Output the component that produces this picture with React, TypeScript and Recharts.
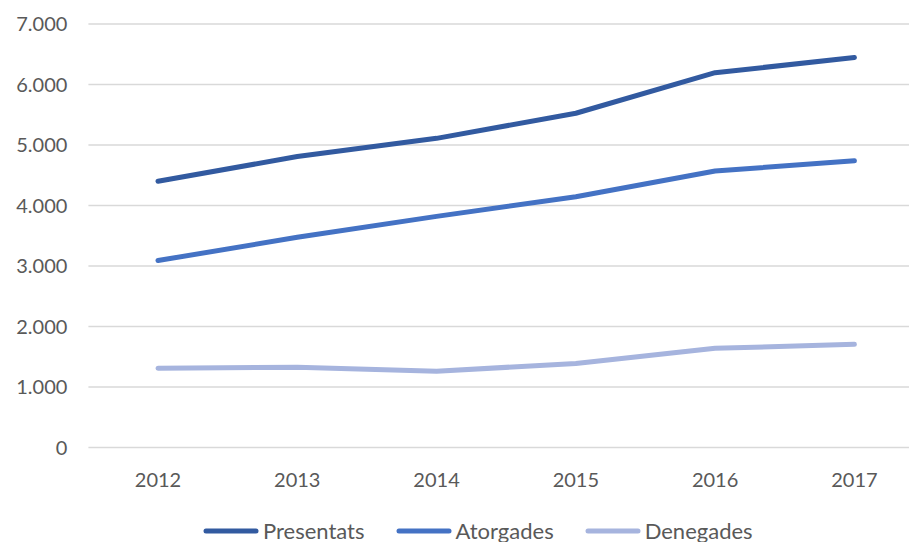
import React from 'react';
import { LineChart, Line, XAxis, YAxis, CartesianGrid, Legend } from 'recharts';

const years = ['2012', '2013', '2014', '2015', '2016', '2017'];
const presentats = [4400, 4810, 5110, 5525, 6195, 6445];
const atorgades = [3090, 3475, 3820, 4145, 4570, 4740];
const denegades = [1310, 1325, 1260, 1390, 1640, 1705];
const yTicks = [0, 1000, 2000, 3000, 4000, 5000, 6000, 7000];

const seriesInfo = [
  { key: 'Presentats', color: '#325AA0' },
  { key: 'Atorgades', color: '#4472C4' },
  { key: 'Denegades', color: '#A6B4DE' },
];

const data = years.map((y, i) => ({
  year: y,
  Presentats: presentats[i],
  Atorgades: atorgades[i],
  Denegades: denegades[i],
}));

const fmt = (v: number) => {
  const s = String(Math.round(v));
  return s.replace(/\B(?=(\d{3})+(?!\d))/g, '.');
};

const FONT = 'Lato, "Open Sans", sans-serif';

const LegendContent = () => (
  <div style={{ display: 'flex', alignItems: 'center', height: 30, paddingLeft: 203, fontFamily: FONT, fontSize: 22, color: '#595959' }}>
    {seriesInfo.map((s) => (
      <div key={s.key} style={{ display: 'flex', alignItems: 'center', marginRight: 31 }}>
        <svg width={56} height={8} style={{ display: 'block' }}>
          <line x1={3} y1={4} x2={53} y2={4} stroke={s.color} strokeWidth={5} strokeLinecap="round" />
        </svg>
        <span style={{ marginLeft: 4, lineHeight: '30px', whiteSpace: 'nowrap' }}>{s.key}</span>
      </div>
    ))}
  </div>
);

export default function App() {
  return (
    <div style={{ position: 'fixed', left: 0, top: 0, width: 909, height: 542, overflow: 'hidden', background: '#fff' }}>
      <LineChart width={924} height={542} data={data} margin={{ top: 24, right: 0, left: 0.4, bottom: 64.5 }}>
        <CartesianGrid vertical={false} stroke="#D9D9D9" strokeWidth={1.5} />
        <XAxis
          dataKey="year"
          height={30}
          axisLine={false}
          tickLine={false}
          tickSize={0}
          tickMargin={25}
          padding={{ left: 69.6, right: 69.6 }}
          tick={{ fill: '#595959', fontSize: 20, fontFamily: FONT }}
          interval={0}
        />
        <YAxis
          width={88}
          domain={[0, 7000]}
          ticks={yTicks}
          axisLine={false}
          tickLine={false}
          tickSize={0}
          tickMargin={21}
          tickFormatter={fmt}
          tick={{ fill: '#595959', fontSize: 20, fontFamily: FONT }}
        />
        <Legend
          layout="horizontal"
          verticalAlign="middle"
          align="center"
          content={<LegendContent />}
          wrapperStyle={{ top: 516, left: 0, width: 924, height: 30 }}
        />
        {seriesInfo.map((s) => (
          <Line
            key={s.key}
            type="linear"
            dataKey={s.key}
            stroke={s.color}
            strokeWidth={5}
            strokeLinecap="round"
            strokeLinejoin="round"
            dot={false}
            activeDot={false}
            isAnimationActive={false}
          />
        ))}
      </LineChart>
    </div>
  );
}
